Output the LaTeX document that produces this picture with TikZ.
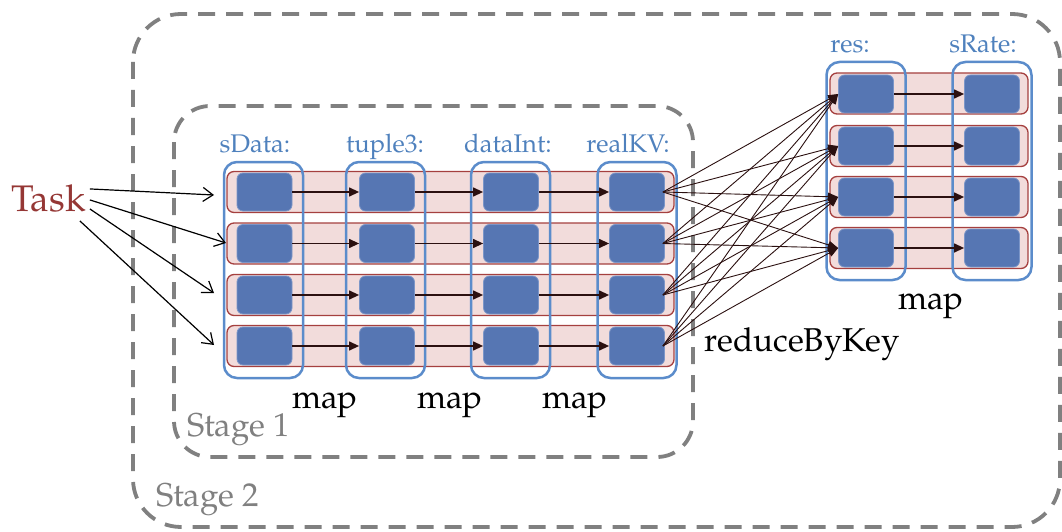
\documentclass[tikz,border=0pt]{standalone}
\usepackage{fontspec}
\setmainfont{TeX Gyre Pagella}
\usetikzlibrary{arrows.meta,calc}
\definecolor{stagegray}{HTML}{808080}
\definecolor{colblue}{HTML}{5B8CCB}
\definecolor{lblblue}{HTML}{4F81BD}
\definecolor{sqfill}{HTML}{5676B3}
\definecolor{sqdraw}{HTML}{7C96C8}
\definecolor{rowfill}{HTML}{F2DCDB}
\definecolor{rowdraw}{HTML}{A5403F}
\definecolor{taskred}{HTML}{953735}
\definecolor{arrdark}{HTML}{2B1010}
\tikzset{
  stagebox/.style={draw=stagegray, line width=3.8pt, dash pattern=on 17pt off 11pt},
  rowbox/.style={draw=rowdraw, fill=rowfill, line width=1.3pt, rounded corners=7pt},
  colbox/.style={draw=colblue, line width=2.5pt, rounded corners=13pt, minimum width=79pt, minimum height=216pt, inner sep=0pt},
  sq/.style={draw=sqdraw, fill=sqfill, line width=0.8pt, rounded corners=6pt, minimum width=55pt, minimum height=38pt, inner sep=0pt},
  collbl/.style={text=lblblue, font=\fontsize{25.5}{25.5}\selectfont, anchor=base},
  optext/.style={text=black, font=\fontsize{33}{33}\selectfont, anchor=base},
  stagetext/.style={text=stagegray, font=\fontsize{33}{33}\selectfont, anchor=base west},
  flow/.style={draw=arrdark, line width=1.3pt, -{Triangle[length=10pt,width=9pt]}},
  shuffle/.style={draw=black, line width=0.9pt, -{Triangle[length=10pt,width=8pt]}, arrdark},
  taskarr/.style={draw=black, line width=1.2pt, -{Straight Barb[length=10pt,width=14pt]}}
}
\begin{document}
\begin{tikzpicture}[x=1pt,y=-1pt]
\useasboundingbox (0,0) rectangle (1062,532);
% stage boundaries
\draw[stagebox, rounded corners=48pt] (133,14) rectangle (1060,527);
\draw[stagebox, rounded corners=36pt] (174,106) rectangle (693,457);
\node[stagetext] (st1) at (184,436) {Stage 1};
\node[stagetext] (st2) at (153,506) {Stage 2};
% stage 1 rows
\foreach \r/\y in {1/192,2/243.5,3/295,4/346}{
  \node[rowbox, minimum width=447pt, minimum height=41pt, inner sep=0pt] (ra\r) at (450.5,\y) {};
}
% stage 2 rows
\foreach \r/\y in {1/93.5,2/146,3/197,4/248}{
  \node[rowbox, minimum width=198pt, minimum height=41pt, inner sep=0pt] (rb\r) at (929,\y) {};
}
% columns stage 1
\foreach \c/\x in {1/263.5,2/385.5,3/510.5,4/637}{
  \node[colbox] (ca\c) at (\x,270) {};
}
% columns stage 2
\node[colbox, minimum height=218pt] (cb1) at (866,171) {};
\node[colbox, minimum height=218pt] (cb2) at (992,171) {};
% column labels
\node[collbl] (l1) at (255,152) {sData:};
\node[collbl] (l2) at (385,152) {tuple3:};
\node[collbl] (l3) at (508,152) {dataInt:};
\node[collbl] (l4) at (628,152) {realKV:};
\node[collbl] (l5) at (850,53) {res:};
\node[collbl] (l6) at (983,53) {sRate:};
% squares stage 1
\foreach \r/\y in {1/192,2/243.5,3/295,4/346}{
  \foreach \c/\x in {1/264.5,2/387,3/511,4/637}{
    \node[sq] (a\r\c) at (\x,\y) {};
  }
}
% squares stage 2
\foreach \r/\y in {1/94,2/146,3/197,4/248}{
  \node[sq] (b\r1) at (866,\y) {};
  \node[sq] (b\r2) at (992,\y) {};
}
% flow arrows
\foreach \r in {1,2,3,4}{
  \draw[flow] (a\r1.east) -- (a\r2.west);
  \draw[flow] (a\r2.east) -- (a\r3.west);
  \draw[flow] (a\r3.east) -- (a\r4.west);
  \draw[flow] (b\r1.east) -- (b\r2.west);
}
% shuffle arrows
\foreach \i in {1,2,3,4}{
  \foreach \j in {1,2,3,4}{
    \draw[shuffle] ($(a\i4.east)+(-2,0)$) -- (b\j1.west);
  }
}
% operation labels
\node[optext] (m1) at (325,408) {map};
\node[optext] (m2) at (450,408) {map};
\node[optext] (m3) at (575,408) {map};
\node[optext] (m4) at (931,309) {map};
\node[optext] (rbk) at (802,351) {reduceByKey};
% Task
\node[text=taskred, font=\fontsize{37}{37}\selectfont, anchor=base west, inner sep=0pt] (task) at (11,211) {Task};
\coordinate (e1) at (214,195);
\coordinate (e2) at (226,243);
\coordinate (e3) at (214,293);
\coordinate (e4) at (214,345);
\draw[taskarr] ($(task.east)+(4,-9)$) -- (e1);
\draw[taskarr] ($(task.east)+(4,2)$) -- (e2);
\draw[taskarr] ($(task.east)+(4,11)$) -- (e3);
\draw[taskarr] ($(task.east)+(-6,23)$) -- (e4);
\end{tikzpicture}
\end{document}
